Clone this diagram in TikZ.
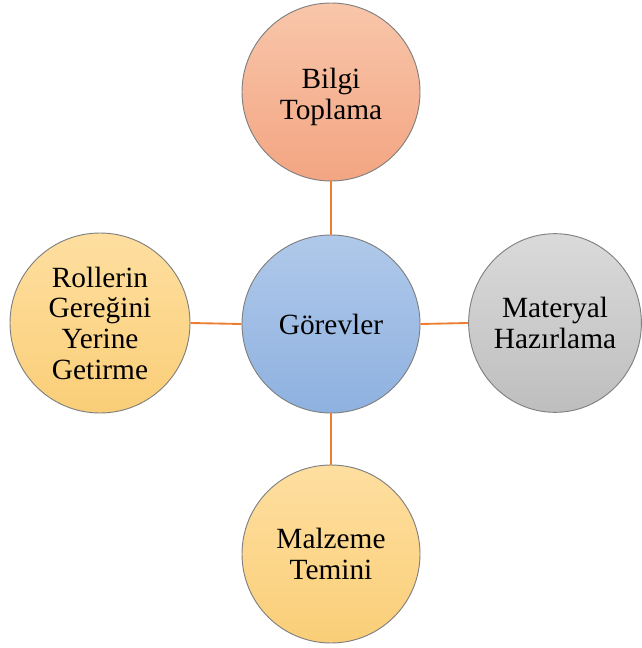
\documentclass[tikz,border=0pt]{standalone}
\usepackage{fontspec}
\setmainfont{Liberation Serif}
\usetikzlibrary{shapes.geometric}
\begin{document}
\begin{tikzpicture}[x=0.75pt,y=-0.75pt,
  bubble/.style={circle,draw=black!50,line width=0.7pt,inner sep=0pt,
    align=center,font=\fontsize{22}{23}\selectfont},
  link/.style={line width=1.4pt},
]
\definecolor{linkc}{HTML}{ED7D31}
\useasboundingbox (0,0) rectangle (641,648);
\node[bubble,minimum size=133.5pt,top color={rgb,255:red,248;green,198;blue,170},bottom color={rgb,255:red,243;green,165;blue,130}] (top) at (331,92) {};
\node at (331,97) [align=center,font=\fontsize{22}{23}\selectfont] (toptxt) {Bilgi\\Toplama};
\node[bubble,minimum size=133.5pt,top color={rgb,255:red,176;green,201;blue,234},bottom color={rgb,255:red,142;green,177;blue,224}] (c) at (331,324) {Görevler};
\node[bubble,minimum size=135pt,top color={rgb,255:red,254;green,223;blue,160},bottom color={rgb,255:red,250;green,206;blue,120}] (l) at (100,323) {Rollerin\\Gereğini\\Yerine\\Getirme};
\node[bubble,ellipse,minimum width=123pt,minimum height=134pt,top color={rgb,255:red,218;green,218;blue,218},bottom color={rgb,255:red,190;green,190;blue,190}] (r) at (555,323) {Materyal\\Hazırlama};
\node[bubble,minimum size=133.5pt,top color={rgb,255:red,254;green,223;blue,160},bottom color={rgb,255:red,250;green,206;blue,120}] (b) at (331,554) {Malzeme\\Temini};
\draw[link,draw=linkc] (top.south) -- (c.north);
\draw[link,draw=linkc] (c.south) -- (b.north);
\draw[link,draw=linkc] (c.west) -- (l.east);
\draw[link,draw=linkc] (c.east) -- (r.west);
\end{tikzpicture}
\end{document}
